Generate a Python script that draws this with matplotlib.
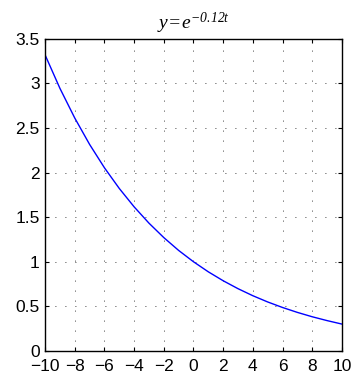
import matplotlib
matplotlib.use("Agg")
import matplotlib.pyplot as plt

t = [-10, -9, -8, -7, -6, -5, -4, -3, -2, -1, 0, 1, 2, 3, 4, 5, 6, 7, 8, 9, 10]
y = [3.320, 2.945, 2.612, 2.316, 2.054, 1.822, 1.616, 1.433, 1.271, 1.127, 1.000,
     0.887, 0.787, 0.698, 0.619, 0.549, 0.487, 0.432, 0.383, 0.340, 0.301]

x_ticks = [-10, -8, -6, -4, -2, 0, 2, 4, 6, 8, 10]
y_ticks = [0, 0.5, 1, 1.5, 2, 2.5, 3, 3.5]
y_labels = ["0", "0.5", "1", "1.5", "2", "2.5", "3", "3.5"]

plt.rcParams["font.family"] = ["Liberation Sans", "DejaVu Sans"]
plt.rcParams["mathtext.fontset"] = "custom"
plt.rcParams["mathtext.it"] = "Liberation Serif:italic"
plt.rcParams["mathtext.rm"] = "Liberation Serif:italic"

fig = plt.figure(figsize=(3.55, 3.81), dpi=100)
ax = fig.add_axes([0.127, 0.079, 0.836, 0.819])

ax.plot(t, y, color=(0, 0, 1), linewidth=1.0)

ax.set_xlim(-10, 10)
ax.set_ylim(0, 3.5)
ax.set_xticks(x_ticks)
ax.set_xticklabels([str(v).replace("-", "\u2212") for v in x_ticks])
ax.set_yticks(y_ticks)
ax.set_yticklabels(y_labels)
ax.tick_params(direction="in", length=3, width=0.8, labelsize=12.5,
               top=True, right=True)
ax.tick_params(axis="x", pad=6)
ax.tick_params(axis="y", pad=4)
for s in ax.spines.values():
    s.set_linewidth(1.0)

ax.grid(True, color="black", linestyle=(0, (1, 11)), linewidth=0.6)

ax.set_title(r"$y\!=\!e^{-0.12t}$", fontsize=14, pad=7)

fig.savefig("out.png", dpi=100)
plt.close(fig)
